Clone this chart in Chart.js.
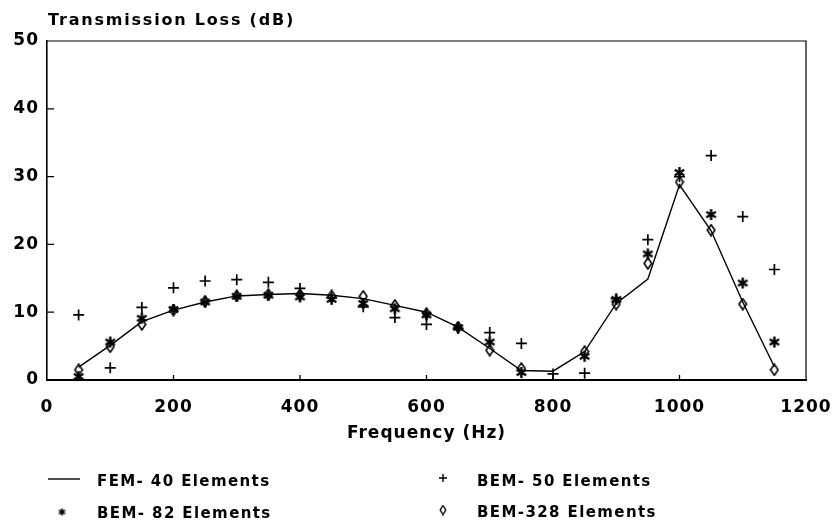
<!DOCTYPE html>
<html>
<head>
<meta charset="utf-8">
<script src="https://cdn.jsdelivr.net/npm/chart.js@4.4.1/dist/chart.umd.min.js"></script>
<style>
  html, body { margin: 0; padding: 0; background: #fff; }
  #wrap { position: relative; width: 835px; height: 527px; }
</style>
</head>
<body>
<div id="wrap"><canvas id="c" width="835" height="527"></canvas></div>
<script>
// ---- data ----
const frequencies = [50,100,150,200,250,300,350,400,450,500,550,600,650,700,750,800,850,900,950,1000,1050,1100,1150];
const fem40  = [1.9,5.1,8.6,10.3,11.5,12.4,12.6,12.75,12.5,12.0,11.0,10.0,7.8,4.65,1.4,1.3,4.2,11.3,14.9,28.8,22.0,11.5,1.95];
const bem50  = [9.6,1.8,10.7,13.6,14.6,14.8,14.4,13.5,12.1,10.8,9.2,8.2,7.6,7.0,5.4,0.9,1.0,12.0,20.7,30.0,33.1,24.1,16.3];
const bem82  = [0.5,5.6,9.1,10.4,11.5,12.35,12.5,12.25,11.9,11.3,10.5,9.6,7.75,5.6,1.1,null,3.5,11.9,18.6,30.6,24.4,14.3,5.6];
const bem328 = [1.5,4.9,8.2,10.3,11.6,12.4,12.6,12.6,12.4,12.35,11.0,9.8,7.8,4.4,1.7,null,4.2,11.2,17.2,29.2,22.1,11.2,1.5];
const seriesLabels = ['FEM- 40 Elements','BEM- 50 Elements','BEM- 82 Elements','BEM-328 Elements'];
const xTicks = [0,200,400,600,800,1000,1200];
const yTicks = [0,10,20,30,40,50];
const yTitle = 'Transmission Loss (dB)';
const xTitle = 'Frequency (Hz)';

const FONT = '"DejaVu Sans", "Liberation Sans", sans-serif';

// ---- custom marker images ----
function makeAsterisk(size, lw) {
  const c = document.createElement('canvas');
  c.width = size; c.height = size;
  const g = c.getContext('2d');
  const r = size / 2 - 1, cx = size / 2, cy = size / 2;
  g.strokeStyle = '#000'; g.lineWidth = lw; g.lineCap = 'butt';
  [90, 30, 150].forEach(a => {
    const rad = a * Math.PI / 180;
    g.beginPath();
    g.moveTo(cx - r * Math.cos(rad), cy - r * Math.sin(rad));
    g.lineTo(cx + r * Math.cos(rad), cy + r * Math.sin(rad));
    g.stroke();
  });
  g.fillStyle = '#000';
  g.beginPath(); g.arc(cx, cy, size * 0.16, 0, Math.PI * 2); g.fill();
  return c;
}
function makeDiamond(w, h, lw) {
  const c = document.createElement('canvas');
  c.width = w; c.height = h;
  const g = c.getContext('2d');
  g.strokeStyle = '#000'; g.lineWidth = lw;
  g.beginPath();
  g.moveTo(w / 2, 1); g.lineTo(w - 1.2, h / 2); g.lineTo(w / 2, h - 1); g.lineTo(1.2, h / 2); g.closePath();
  g.stroke();
  return c;
}
const asterisk = makeAsterisk(13, 2.4);
const diamond = makeDiamond(10, 13, 1.6);
const asteriskSmall = makeAsterisk(9, 1.8);
const diamondSmall = makeDiamond(8, 11, 1.4);

const pts = arr => frequencies.map((f, i) => ({ x: f, y: arr[i] }));

// ---- plugin: frame, inward ticks, y title, legend ----
const decor = {
  id: 'decor',
  beforeDraw(chart) { chart.ctx.letterSpacing = '1px'; },
  afterDraw(chart) {
    const { ctx, chartArea: a, scales: { x, y } } = chart;
    ctx.save();
    ctx.strokeStyle = '#000';
    ctx.lineWidth = 1.2;
    ctx.beginPath();
    ctx.moveTo(a.left, a.top); ctx.lineTo(a.right, a.top); ctx.lineTo(a.right, a.bottom);
    ctx.stroke();
    ctx.lineWidth = 1.3;
    ctx.beginPath();
    yTicks.forEach(v => {
      if (v > 0 && v < 50) { const py = y.getPixelForValue(v); ctx.moveTo(a.left, py); ctx.lineTo(a.left + 7, py); }
    });
    xTicks.forEach(v => {
      if (v > 0 && v < 1200) { const px = x.getPixelForValue(v); ctx.moveTo(px, a.bottom); ctx.lineTo(px, a.bottom - 5); }
    });
    ctx.stroke();

    // y axis title
    ctx.fillStyle = '#000';
    ctx.font = 'bold 16px ' + FONT;
    ctx.letterSpacing = '1.8px';
    ctx.textAlign = 'left';
    ctx.textBaseline = 'middle';
    ctx.fillText(yTitle, a.left + 1, 21);

    // legend
    ctx.font = 'bold 15px ' + FONT;
    ctx.letterSpacing = '1.4px';
    const items = [
      { ds: 0, sx: 64, sy: 479, tx: 97, ty: 482 },
      { ds: 1, sx: 443, sy: 478, tx: 477, ty: 482 },
      { ds: 2, sx: 62, sy: 512, tx: 97, ty: 514 },
      { ds: 3, sx: 443, sy: 510, tx: 477, ty: 513 }
    ];
    items.forEach(it => {
      const d = chart.data.datasets[it.ds];
      ctx.lineWidth = 1.4;
      ctx.beginPath();
      if (it.ds === 0) {
        ctx.moveTo(it.sx - 16, it.sy); ctx.lineTo(it.sx + 16, it.sy); ctx.stroke();
      } else if (it.ds === 1) {
        ctx.moveTo(it.sx - 4, it.sy); ctx.lineTo(it.sx + 4, it.sy);
        ctx.moveTo(it.sx, it.sy - 4); ctx.lineTo(it.sx, it.sy + 4); ctx.stroke();
      } else {
        const img = it.ds === 2 ? asteriskSmall : diamondSmall;
        ctx.drawImage(img, it.sx - img.width / 2, it.sy - img.height / 2);
      }
      ctx.fillText(d.label, it.tx, it.ty);
    });
    ctx.restore();
  }
};

new Chart(document.getElementById('c'), {
  type: 'line',
  data: {
    datasets: [
      { label: seriesLabels[0], data: pts(fem40), borderColor: '#000', borderWidth: 1.4, pointRadius: 0, tension: 0, fill: false },
      { label: seriesLabels[1], data: pts(bem50), showLine: false, pointStyle: 'cross', pointRadius: 5.5, borderColor: '#000', borderWidth: 1.7 },
      { label: seriesLabels[2], data: pts(bem82), showLine: false, pointStyle: asterisk, pointRadius: 6, borderColor: '#000' },
      { label: seriesLabels[3], data: pts(bem328), showLine: false, pointStyle: diamond, pointRadius: 6, borderColor: '#000' }
    ]
  },
  options: {
    responsive: false,
    animation: false,
    events: [],
    layout: { padding: { top: 41, right: 29, left: 0, bottom: 83 } },
    plugins: { legend: { display: false }, tooltip: { enabled: false }, title: { display: false } },
    scales: {
      x: {
        type: 'linear', min: 0, max: 1200,
        afterBuildTicks: s => { s.ticks = xTicks.map(v => ({ value: v })); },
        afterFit: s => { s.height = 64; s.paddingLeft = 0; s.paddingRight = 0; },
        grid: { display: false, drawTicks: false },
        border: { display: true, color: '#000', width: 2 },
        ticks: { color: '#000', padding: 17, maxRotation: 0, callback: v => String(v), font: { family: FONT, size: 17, weight: 'bold' } },
        title: { display: true, text: xTitle, color: '#000', padding: { top: 0, bottom: 0 }, font: { family: FONT, size: 17, weight: 'bold' } }
      },
      y: {
        type: 'linear', min: 0, max: 50,
        afterBuildTicks: s => { s.ticks = yTicks.map(v => ({ value: v })); },
        afterFit: s => { s.width = 47; s.paddingTop = 0; s.paddingBottom = 0; },
        grid: { display: false, drawTicks: false },
        border: { display: true, color: '#000', width: 1.6 },
        ticks: { color: '#000', padding: 8, callback: v => String(v), font: { family: FONT, size: 17, weight: 'bold' } }
      }
    }
  },
  plugins: [decor]
});
</script>
</body>
</html>
